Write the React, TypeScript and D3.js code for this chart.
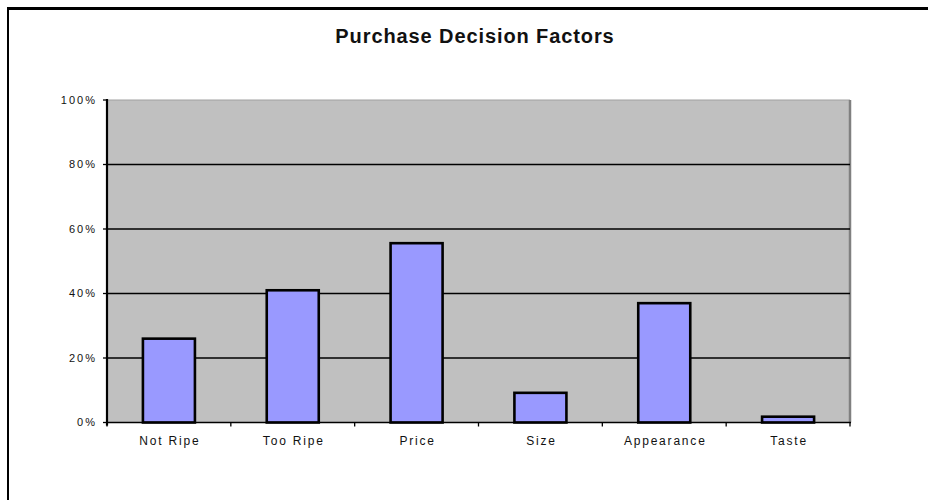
import * as d3 from 'd3';

const categories = ['Not Ripe', 'Too Ripe', 'Price', 'Size', 'Appearance', 'Taste'];
const shares = [26, 41, 55.6, 9.2, 37, 1.8];
const yTicks = [0, 20, 40, 60, 80, 100];

const W = 928;
const H = 500;
const plot = { left: 107, right: 850, top: 100, bottom: 422.5 };

export default function App() {
  const x = d3.scaleBand<string>()
    .domain(categories)
    .range([plot.left, plot.right])
    .paddingInner(0.58)
    .paddingOuter(0.29);
  const band = d3.scaleBand<string>().domain(categories).range([plot.left, plot.right]);
  const y = d3.scaleLinear().domain([0, 100]).range([plot.bottom, plot.top]);

  const font = 'Liberation Sans, Arial, Helvetica, sans-serif';

  return (
    <svg
      width={W}
      height={H}
      style={{ position: 'absolute', left: 0, top: 0, display: 'block', background: '#fff' }}
    >
      {/* frame */}
      <line x1={7} x2={W} y1={8.5} y2={8.5} stroke="#000" strokeWidth={3} />
      <line x1={8} x2={8} y1={7} y2={H} stroke="#000" strokeWidth={2} />

      <text
        x={475}
        y={43}
        textAnchor="middle"
        fontFamily={font}
        fontWeight="bold"
        fontSize={20}
        letterSpacing={0.9}
        fill="#111"
      >
        Purchase Decision Factors
      </text>

      {/* plot area */}
      <rect
        x={plot.left}
        y={plot.top}
        width={plot.right - plot.left}
        height={plot.bottom - plot.top}
        fill="#c0c0c0"
      />
      <line x1={plot.left} x2={plot.right} y1={plot.top} y2={plot.top} stroke="#a0a0a0" strokeWidth={1} />
      <line x1={plot.right} x2={plot.right} y1={plot.top} y2={plot.bottom} stroke="#808080" strokeWidth={2.5} />

      {yTicks.filter(t => t > 0 && t < 100).map(t => (
        <line key={t} x1={plot.left} x2={plot.right} y1={y(t)} y2={y(t)} stroke="#000" strokeWidth={1.3} />
      ))}

      {/* bars */}
      {categories.map((c, i) => (
        <rect
          key={c}
          x={x(c)!}
          y={y(shares[i])}
          width={x.bandwidth()}
          height={plot.bottom - y(shares[i])}
          fill="#9999ff"
          stroke="#000"
          strokeWidth={2.6}
        />
      ))}

      {/* y axis */}
      <line x1={plot.left} x2={plot.left} y1={plot.top - 1} y2={plot.bottom + 3} stroke="#000" strokeWidth={2.2} />
      {yTicks.map(t => (
        <g key={t}>
          <line x1={plot.left - 4} x2={plot.left} y1={y(t)} y2={y(t)} stroke="#000" strokeWidth={1.3} />
          <text
            x={97}
            y={y(t)}
            dy="0.35em"
            textAnchor="end"
            fontFamily={font}
            fontSize={11}
            letterSpacing={2}
            fill="#111"
          >
            {t}%
          </text>
        </g>
      ))}

      {/* x axis */}
      <line x1={plot.left} x2={plot.right + 1} y1={plot.bottom} y2={plot.bottom} stroke="#000" strokeWidth={1.5} />
      {[...categories.map(c => band(c)!), plot.right].map((v, i) => (
        <line key={i} x1={v} x2={v} y1={plot.bottom} y2={plot.bottom + 4} stroke="#000" strokeWidth={1.3} />
      ))}
      {categories.map(c => (
        <text
          key={c}
          x={band(c)! + band.bandwidth() / 2 + 1}
          y={445}
          textAnchor="middle"
          fontFamily={font}
          fontSize={12}
          letterSpacing={1.8}
          fill="#111"
        >
          {c}
        </text>
      ))}
    </svg>
  );
}
